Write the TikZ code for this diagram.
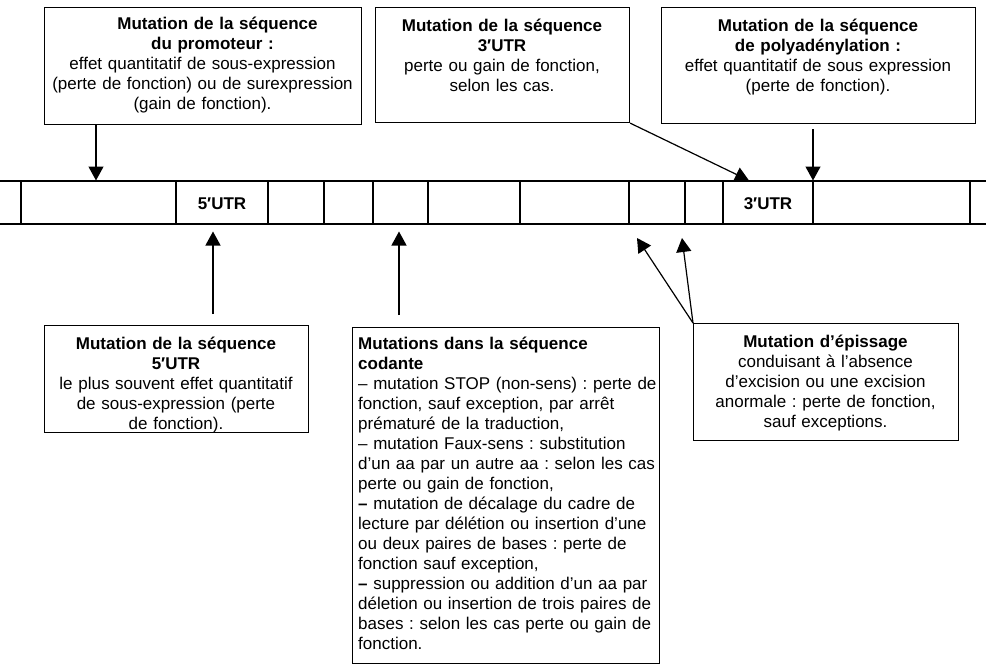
\documentclass[tikz,border=0pt]{standalone}
\usepackage{fontspec}
\setmainfont{Liberation Sans}
\usetikzlibrary{arrows.meta}
\frenchspacing
\tikzset{
  boxframe/.style={draw, line width=1.1pt, inner sep=0pt, anchor=north west},
  boxtext/.style={font=\fontsize{17}{20.2}\selectfont, text width=#1, align=center, inner sep=0pt, anchor=base},
  codetext/.style={font=\fontsize{17}{20}\selectfont, text width=#1, align=left, inner sep=0pt, anchor=base west},
  utrlabel/.style={font=\fontsize{17}{20}\selectfont\bfseries, inner sep=0pt},
  arr/.style={line width=1.2pt, -{Triangle[length=14pt,width=15pt]}},
  stripline/.style={line width=1.4pt},
  utrline/.style={line width=2.2pt},
}
\begin{document}
\begin{tikzpicture}[x=1pt,y=-1pt]
\frenchspacing
\useasboundingbox (0,0) rectangle (986,664);

% ---------- strip ----------
\draw[stripline] (0,181) -- (986,181);
\draw[stripline] (0,224) -- (986,224);
\foreach \xx in {21,324,373,428,520,629,685,970}
  \draw[stripline] (\xx,181) -- (\xx,224);
\draw[utrline] (176,181) rectangle (268,224);
\draw[utrline] (723,181) rectangle (813,224);
\node[utrlabel] (u5) at (222,203.5) {5′UTR};
\node[utrlabel] (u3) at (768,203.5) {3′UTR};

% arrow targets on the strip
\coordinate (t1) at (96,180.5);
\coordinate (t2) at (749,180.5);
\coordinate (t3) at (813,180.5);
\coordinate (t4) at (213,231.5);
\coordinate (t5) at (399,231.5);
\coordinate (t6) at (637,238);
\coordinate (t7) at (682,238);

% ---------- upper boxes ----------
\node[boxframe, minimum width=317pt, minimum height=117pt] (b1) at (44,7) {};
\node[boxtext=315pt] (b1t) at (202.5,29) {%
\hspace*{30pt}\textbf{Mutation de la séquence}\\
\hspace*{20pt}\textbf{du promoteur :}\\
effet quantitatif de sous-expression\\
(perte de fonction) ou de surexpression\\
(gain de fonction).};

\node[boxframe, minimum width=254pt, minimum height=115pt] (b2) at (375,7) {};
\node[boxtext=250pt] (b2t) at (502,31) {%
\textbf{Mutation de la séquence}\\
\textbf{3′UTR}\\
perte ou gain de fonction,\\
selon les cas.};

\node[boxframe, minimum width=314pt, minimum height=116pt] (b3) at (661,7) {};
\node[boxtext=310pt] (b3t) at (818,31) {%
\textbf{Mutation de la séquence}\hspace*{16pt}\\
\textbf{de polyadénylation :}\hspace*{10pt}\\
effet quantitatif de sous expression\\
(perte de fonction).};

% ---------- lower boxes ----------
\node[boxframe, minimum width=264pt, minimum height=107pt] (b4) at (44,325) {};
\node[boxtext=260pt] (b4t) at (176,349) {%
\textbf{Mutation de la séquence}\\
\textbf{5′UTR}\\
le plus souvent effet quantitatif\\
de sous-expression (perte\\
de fonction).};

\node[boxframe, minimum width=307pt, minimum height=336pt] (b5) at (352,327) {};
\node[codetext=304pt] (b5t) at (358,349) {%
\textbf{Mutations dans la séquence}\\
\textbf{codante}\\
– mutation STOP (non-sens) : perte de\\
fonction, sauf exception, par arrêt\\
prématuré de la traduction,\\
– mutation Faux-sens : substitution\\
d’un aa par un autre aa : selon les cas\\
perte ou gain de fonction,\\
\textbf{–} mutation de décalage du cadre de\\
lecture par délétion ou insertion d’une\\
ou deux paires de bases : perte de\\
fonction sauf exception,\\
\textbf{–} suppression ou addition d’un aa par\\
déletion ou insertion de trois paires de\\
bases : selon les cas perte ou gain de\\
fonction.};

\node[boxframe, minimum width=265pt, minimum height=117pt] (b6) at (693,323) {};
\node[boxtext=262pt] (b6t) at (825.5,347) {%
\textbf{Mutation d’épissage}\\
conduisant à l’absence\\
d’excision ou une excision\\
anormale : perte de fonction,\\
sauf exceptions.};

% ---------- arrows ----------
\draw[arr] (t1 |- b1.south) -- (t1);
\draw[arr] (b2.south east) -- (t2);
\draw[arr, shorten <=5pt] (t3 |- b3.south) -- (t3);
\draw[arr, shorten <=11pt] (t4 |- b4.north) -- (t4);
\draw[arr, shorten <=12pt] (t5 |- b5.north) -- (t5);
\draw[arr] (b6.north west) -- (t6);
\draw[arr] (b6.north west) -- (t7);
\end{tikzpicture}
\end{document}
